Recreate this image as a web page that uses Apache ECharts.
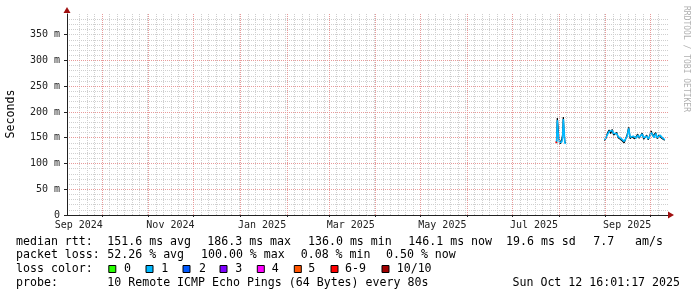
<!DOCTYPE html>
<html><head><meta charset="utf-8">
<script src="https://cdn.jsdelivr.net/npm/echarts@6/dist/echarts.min.js"></script>
<style>html,body{margin:0;padding:0;background:#fff}#c{width:697px;height:297px}</style>
</head><body><div id="c"></div>
<script>
// ---------- data ----------
const rangeEnd = '2025-10-12T16:01:17';
const rangeDays = 400;
const yTickValues = [0, 50, 100, 150, 200, 250, 300, 350];
const xLabelTexts = ['Sep 2024', 'Nov 2024', 'Jan 2025', 'Mar 2025', 'May 2025', 'Jul 2025', 'Sep 2025'];
const xLabelDates = ['2024-09-15T12:00:00', '2024-11-15T12:00:00', '2025-01-15T12:00:00', '2025-03-15T12:00:00', '2025-05-15T12:00:00', '2025-07-15T12:00:00', '2025-09-15T12:00:00'];
const monthStarts = ['2024-10-01', '2024-11-01', '2024-12-01', '2025-01-01', '2025-02-01', '2025-03-01', '2025-04-01', '2025-05-01', '2025-06-01', '2025-07-01', '2025-08-01', '2025-09-01', '2025-10-01'];

const burst1Start = '2025-07-30T12:00:00';
const burst1StepHours = 12;
const burst1Median = [142, 184, 160, 148, 140, 137, 140, 142, 150, 186, 165, 140, 138];
const burst1Smoke  = [140, 188, 170, 150, 145, 138, 143, 147, 155, 190, 160, 142, 140];

const burst2Start = '2025-08-31T12:00:00';
const burst2StepHours = 24;
const burst2Median = [146, 147, 157, 162, 160, 164, 158, 155, 158, 152, 150, 148, 147, 143, 146, 153, 168, 151, 149, 153, 150, 149, 155, 151, 148, 157, 150, 149, 153, 148, 152, 160, 155, 150, 158, 150, 153, 155, 151, 148, 146];
const burst2Smoke  = [144, 150, 160, 165, 158, 166, 155, 158, 160, 150, 152, 146, 149, 140, 148, 156, 170, 148, 152, 155, 148, 152, 157, 149, 150, 159, 147, 151, 155, 146, 154, 163, 153, 152, 160, 148, 155, 157, 149, 150, 145];

const highLossTimes = ['2025-07-30T00:00:00', '2025-07-30T12:00:00'];
const highLossValues = [140, 142];

const lossLabels = ['0', '1', '2', '3', '4', '5', '6-9', '10/10'];
const lossColors = ['#26ff00', '#00b8ff', '#0059ff', '#7e00ff', '#ff00ff', '#ff5500', '#ff0000', '#a10000'];

const rttStats = ['151.6 ms avg', '186.3 ms max', '136.0 ms min', '146.1 ms now', '19.6 ms sd', '7.7', 'am/s'];
const lossStats = ['52.26 % avg', '100.00 % max', '0.08 % min', '0.50 % now'];
const probeText = '10 Remote ICMP Echo Pings (64 Bytes) every 80s';
const stampText = 'Sun Oct 12 16:01:17 2025';

// ---------- helpers ----------
function t(s) {
  const m = s.match(/(\d+)-(\d+)-(\d+)(?:T(\d+):(\d+):(\d+))?/);
  return new Date(+m[1], +m[2] - 1, +m[3], +(m[4] || 0), +(m[5] || 0), +(m[6] || 0)).getTime();
}
const DAY = 86400000;
const xMax = t(rangeEnd);
const xMin = xMax - rangeDays * DAY;

function burst(start, stepH, vals) {
  const s = t(start);
  return vals.map((v, i) => [s + i * stepH * 3600000, v]);
}
const gapPoint = [t('2025-08-15T00:00:00'), null];
const medianData = burst(burst1Start, burst1StepHours, burst1Median).concat([gapPoint], burst(burst2Start, burst2StepHours, burst2Median));
const smokeData = burst(burst1Start, burst1StepHours, burst1Smoke).concat([gapPoint], burst(burst2Start, burst2StepHours, burst2Smoke));
const highLossData = highLossTimes.map((s, i) => [t(s), highLossValues[i]]);

const labelMs = xLabelDates.map(t);
const monthMs = monthStarts.map(t);
// minor vertical grid: every 5 days within each month
const minorMs = [];
for (let d = new Date(2024, 8, 1); d.getTime() < xMax; d.setDate(d.getDate() + 1)) {
  const day = d.getDate();
  if (day !== 1 && (day - 1) % 5 === 0 && d.getTime() > xMin) minorMs.push(d.getTime());
}

const FONT = '"DejaVu Sans Mono", monospace';
const chart = echarts.init(document.getElementById('c'), null, { renderer: 'canvas' });

const graphics = [];
function txt(x, y, s, extra) {
  graphics.push(Object.assign({ type: 'text', x: x, y: y, silent: true,
    style: Object.assign({ text: s, font: '11.6px ' + FONT, fill: '#000', textVerticalAlign: 'middle', textAlign: 'left' }, extra || {}) }));
}
txt(16, 241.5, 'median rtt:');
[107.3, 207.3, 308, 408.3, 506, 593.3, 635].forEach((x, i) => txt(x, 241.5, rttStats[i]));
txt(16, 255, 'packet loss:');
[107.3, 201, 300.7, 386].forEach((x, i) => txt(x, 255, lossStats[i]));
txt(16, 269, 'loss color:');
const sqX = [108.3, 145.5, 182.5, 219.5, 256.8, 293.8, 330.5, 381.5];
const lbX = [124, 161.3, 199, 235.3, 271.7, 308.3, 345, 396.7];
lossLabels.forEach((l, i) => {
  graphics.push({ type: 'rect', silent: true, shape: { x: sqX[i] + 0.5, y: 265.5, width: 7, height: 7 },
    style: { fill: lossColors[i], stroke: '#000', lineWidth: 1 } });
  txt(lbX[i], 269, l);
});
txt(16, 282.7, 'probe:');
txt(107.3, 282.7, probeText);
txt(680, 282.7, stampText, { textAlign: 'right' });
graphics.push({ type: 'text', x: 10.5, y: 114, rotation: Math.PI / 2, silent: true,
  style: { text: 'Seconds', font: '11.6px ' + FONT, fill: '#000', textAlign: 'center', textVerticalAlign: 'middle' } });
graphics.push({ type: 'text', x: 686, y: 59, rotation: -Math.PI / 2, silent: true,
  style: { text: 'RRDTOOL / TOBI OETIKER', font: '8px ' + FONT, fill: '#b0b0b0', textAlign: 'center', textVerticalAlign: 'middle' } });
graphics.push({ type: 'polygon', silent: true, z: 10, shape: { points: [[63.5, 13], [70.5, 13], [67, 7]] }, style: { fill: '#a01010' } });
graphics.push({ type: 'polygon', silent: true, z: 10, shape: { points: [[668, 211.5], [668, 218.5], [674, 215]] }, style: { fill: '#a01010' } });

const majorColor = '#e89a9a';
const minorGrid = { show: true, interval: 0, lineStyle: { color: '#cfcfcf', width: 1, type: [1, 1] } };

chart.setOption({
  animation: false,
  backgroundColor: '#fff',
  grid: { left: 67, right: 29, top: 14, bottom: 82, containLabel: false },
  xAxis: [
    { type: 'value', min: xMin, max: xMax, z: 1, scale: true,
      axisLine: { show: true, onZero: false, lineStyle: { color: '#222', width: 1 } },
      axisTick: { show: true, interval: 0, length: 2, customValues: monthMs, lineStyle: { color: '#222' } },
      axisLabel: { interval: 0, customValues: labelMs, formatter: v => xLabelTexts[labelMs.indexOf(v)] || '',
        fontFamily: FONT, fontSize: 10, color: '#222', margin: 5 },
      splitLine: { show: false } },
    { type: 'value', min: xMin, max: xMax, z: 0, position: 'bottom', scale: true,
      axisLine: { show: false }, axisTick: { show: false, interval: 0, customValues: minorMs },
      axisLabel: { show: false, interval: 0 }, splitLine: Object.assign({ showMinLine: false, showMaxLine: false }, minorGrid) }
  ],
  yAxis: [
    { type: 'value', min: 0, max: 390, z: 1,
      axisLine: { show: true, onZero: false, lineStyle: { color: '#222', width: 1 } },
      axisTick: { show: true, interval: 0, length: 3, customValues: yTickValues, lineStyle: { color: '#222' } },
      axisLabel: { interval: 0, customValues: yTickValues, formatter: v => v === 0 ? '0' : v + ' m',
        fontFamily: FONT, fontSize: 10, color: '#222', margin: 7 },
      splitLine: { show: true, interval: 0, showMinLine: false, showMaxLine: false, lineStyle: { color: majorColor, width: 1, type: [1, 1] } } },
    { type: 'value', min: 0, max: 390, interval: 10, z: 0, position: 'left',
      axisLine: { show: false }, axisTick: { show: false }, axisLabel: { show: false },
      splitLine: Object.assign({ showMinLine: false, showMaxLine: false }, minorGrid) }
  ],
  series: [
    { name: 'monthGrid', type: 'line', data: [[xMin, null]], xAxisIndex: 0, yAxisIndex: 0, symbol: 'none', z: 1, silent: true,
      markLine: { silent: true, symbol: ['none', 'none'], animation: false, label: { show: false },
        lineStyle: { color: majorColor, width: 1, type: [1, 1] },
        emphasis: { disabled: true },
        data: monthMs.map(v => ({ xAxis: v })) } },
    { name: 'smoke', type: 'line', data: smokeData, xAxisIndex: 0, yAxisIndex: 0, showSymbol: false, symbol: 'none',
      lineStyle: { color: '#000', width: 1.2 }, z: 2, silent: true },
    { name: 'median', type: 'line', data: medianData, xAxisIndex: 0, yAxisIndex: 0, showSymbol: false, symbol: 'none',
      lineStyle: { color: '#00b8ff', width: 1.6 }, z: 3, silent: true },
    { name: 'loss10', type: 'line', data: highLossData, xAxisIndex: 0, yAxisIndex: 0, showSymbol: false, symbol: 'none',
      lineStyle: { color: '#ff0000', width: 2 }, z: 4, silent: true }
  ],
  graphic: graphics
});
</script></body></html>
